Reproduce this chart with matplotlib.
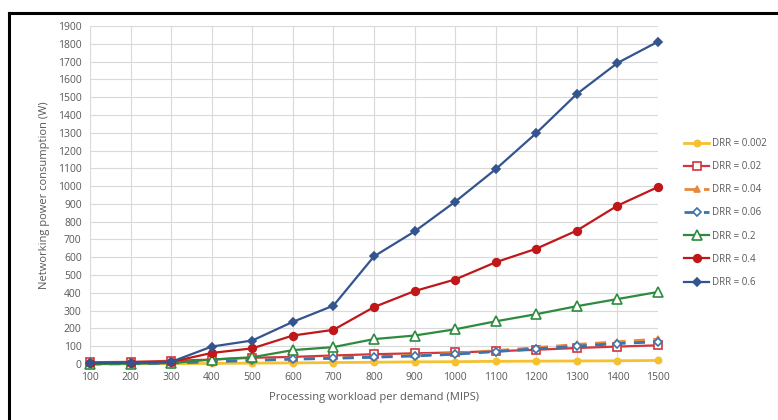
import matplotlib
matplotlib.use("Agg")
import matplotlib.pyplot as plt
from matplotlib.lines import Line2D

plt.rcParams['font.family'] = ['Open Sans', 'DejaVu Sans']

workload = [100, 200, 300, 400, 500, 600, 700, 800, 900, 1000, 1100, 1200, 1300, 1400, 1500]
drr_0002 = [0, 1, 2, 3, 5, 6, 8, 10, 12, 13, 15, 16, 17, 18, 20]
drr_002 = [10, 12, 18, 25, 35, 40, 48, 55, 60, 65, 72, 80, 90, 98, 105]
drr_004 = [0, 3, 6, 15, 22, 30, 35, 40, 50, 60, 75, 92, 110, 125, 140]
drr_006 = [0, 2, 5, 13, 20, 27, 32, 38, 45, 55, 70, 85, 100, 115, 125]
drr_02 = [0, 2, 5, 25, 38, 78, 95, 140, 160, 195, 240, 280, 325, 365, 405]
drr_04 = [5, 8, 12, 62, 88, 160, 192, 320, 410, 475, 572, 648, 750, 890, 995]
drr_06 = [5, 8, 12, 98, 132, 237, 328, 605, 745, 912, 1095, 1298, 1518, 1692, 1812]

labels = ["DRR = 0.002", "DRR = 0.02", "DRR = 0.04", "DRR = 0.06", "DRR = 0.2", "DRR = 0.4", "DRR = 0.6"]
yticks = list(range(0, 2000, 100))

fig = plt.figure(figsize=(7.78, 4.2), dpi=100)
ax = fig.add_axes([90/778, 1-364/420, 568/778, 338/420])

styles = [
    dict(data=drr_0002, color='#F5C12E', ls='-', marker='o', mfc='#F5C12E', ms=4.5, lw=2.0),
    dict(data=drr_002, color='#D0373A', ls='-', marker='s', mfc='white', ms=5.5, lw=1.6),
    dict(data=drr_004, color='#E8883A', ls=(0, (4, 3)), marker='^', mfc='#E8883A', ms=5, lw=2.0),
    dict(data=drr_006, color='#3A74B0', ls=(0, (4, 3)), marker='D', mfc='white', ms=4, lw=2.0),
    dict(data=drr_02, color='#2E8B3E', ls='-', marker='^', mfc='white', ms=6.5, lw=1.6),
    dict(data=drr_04, color='#C01818', ls='-', marker='o', mfc='#C01818', ms=5.5, lw=1.6),
    dict(data=drr_06, color='#34548F', ls='-', marker='D', mfc='#34548F', ms=4, lw=1.6),
]
handles = []
for st, lab in zip(styles, labels):
    h, = ax.plot(workload, st['data'], color=st['color'], linestyle=st['ls'], lw=st['lw'],
                 marker=st['marker'], markerfacecolor=st['mfc'], markeredgecolor=st['color'],
                 markersize=st['ms'], markeredgewidth=1.2, label=lab, clip_on=False)
    handles.append(h)

ax.set_xlim(100, 1500)
ax.set_ylim(0, 1900)
ax.set_xticks(workload)
ax.set_yticks(yticks)
ax.grid(True, color='#D9D9D9', lw=0.8)
ax.set_axisbelow(True)
for s in ax.spines.values():
    s.set_visible(False)
ax.tick_params(length=0, labelsize=7.5, labelcolor='#595959', pad=6)
ax.set_xlabel('Processing workload per demand (MIPS)', fontsize=8, color='#595959', labelpad=6)
ax.set_ylabel('Networking power consumption (W)', fontsize=8, color='#595959', labelpad=6)

leg = fig.legend(handles=handles, labels=labels, loc='upper left', bbox_to_anchor=(684/778, 1-138/420),
                 frameon=False, fontsize=7, labelcolor='#595959', handlelength=2.6,
                 labelspacing=1.25, handletextpad=0.3, borderaxespad=0, borderpad=0)

# border frame (top and left visible)
fig.add_artist(Line2D([9/778, 1.0], [1-13/420, 1-13/420], color='black', lw=2.2, transform=fig.transFigure))
fig.add_artist(Line2D([9/778, 9/778], [0.0, 1-13/420], color='black', lw=2.2, transform=fig.transFigure))

fig.savefig('out.png', dpi=100)
